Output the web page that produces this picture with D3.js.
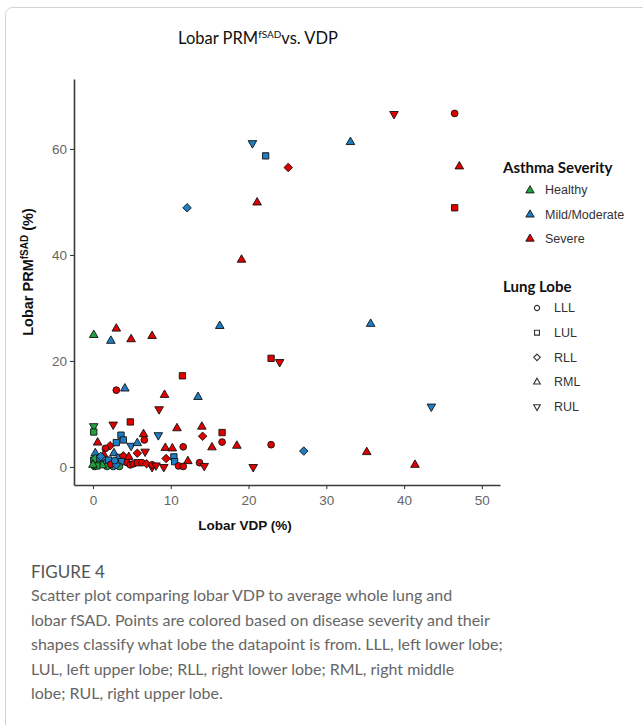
<!DOCTYPE html>
<html>
<head>
<meta charset="utf-8">
<script src="https://cdn.jsdelivr.net/npm/d3@7"></script>
<style>
  body { margin: 0; background: #fff; }
  svg { display: block; }
</style>
</head>
<body>
<div id="chart"></div>
<script>
// categories
const severityLevels = ["Healthy", "Mild/Moderate", "Severe"];
const severityColors = ["#1fa33f", "#1f7ec2", "#e00000"];
const lobeTypes = ["LLL", "LUL", "RLL", "RML", "RUL"];

const xTicks = [0, 10, 20, 30, 40, 50];
const yTicks = [0, 20, 40, 60];

// points (VDP %, PRM fSAD %, severity, lobe)
const pointVdp = [20.5, 22.2, 12.1, 21.1, 25.1, 33.1, 38.7, 46.5, 47.1, 46.5,
  19.1, 35.7, 22.9, 24.0, 43.5, 22.9, 27.1, 35.2, 41.4, 16.3,
  0.1, 2.3, 3.0, 4.9, 7.6, 11.5, 3.0, 4.1, 9.2, 13.5,
  8.5, 2.6, 4.8, 0.1, 0.1, 10.8, 14.0, 14.1, 16.6, 16.6,
  18.5, 15.3, 11.6, 9.3, 10.2, 9.4, 10.4, 10.5, 12.2, 11.0,
  11.6, 13.7, 14.3, 20.6, 9.1, 7.6, 8.4, 0.6, 2.2, 1.6,
  3.0, 3.6, 3.9, 4.9, 5.7, 6.5, 6.6, 6.7, 2.7, 0.3,
  0.1, 0.9, 0.2, 0.3, 0.7, 1.4, 1.6, 2.0, 1.8, 2.6,
  3.4, 3.9, 3.7, 3.4, 4.4, 4.8, 5.2, 5.7, 6.3, 6.9,
  7.6, 8.1, 4.6, 5.7, 0.3, 0.9, 1.2, 2.3, 3.0, 0.5,
  1.0, 2.8, 0.0];
const pointPrm = [61.1, 58.7, 48.9, 49.9, 56.5, 61.3, 66.6, 66.7, 56.7, 48.9,
  39.1, 27.0, 20.5, 19.8, 11.4, 4.2, 3.0, 2.8, 0.4, 26.6,
  24.9, 23.8, 26.1, 24.1, 24.7, 17.2, 14.5, 14.8, 13.6, 13.2,
  10.9, 8.0, 8.5, 7.7, 6.6, 7.3, 7.6, 5.8, 6.5, 4.7,
  4.0, 3.7, 3.8, 3.6, 3.5, 1.6, 1.9, 1.0, 1.1, 0.2,
  0.1, 0.8, 0.2, 0.0, 0.0, 0.0, 6.0, 4.6, 4.0, 3.5,
  4.6, 6.0, 5.1, 4.0, 4.5, 6.2, 5.1, 2.9, 2.6, 2.6,
  1.3, 1.0, 0.1, 0.7, 0.6, 2.3, 0.8, 1.3, 0.1, 0.1,
  1.8, 2.1, 1.0, 0.1, 0.8, 0.4, 0.6, 0.8, 0.8, 0.6,
  0.4, 0.3, 1.9, 2.6, 1.6, 1.7, 0.3, 0.5, 0.4, 0.2,
  2.0, 1.2, 0.4];
const pointSeverity = ["M", "M", "M", "S", "S", "M", "S", "S", "S", "S",
  "S", "M", "S", "S", "M", "S", "M", "S", "S", "M",
  "H", "M", "S", "S", "S", "S", "S", "M", "S", "M",
  "S", "S", "S", "H", "H", "S", "S", "S", "S", "S",
  "S", "S", "S", "S", "S", "S", "M", "M", "S", "S",
  "S", "S", "S", "S", "S", "S", "M", "S", "S", "S",
  "M", "M", "M", "M", "M", "S", "S", "S", "M", "M",
  "M", "M", "H", "H", "H", "S", "M", "M", "H", "M",
  "M", "S", "M", "H", "S", "S", "S", "S", "S", "S",
  "S", "S", "S", "S", "H", "M", "H", "S", "M", "H",
  "M", "M", "H"];
const pointLobe = ["RUL", "LUL", "RLL", "RML", "RLL", "RML", "RUL", "LLL", "RML", "LUL",
  "RML", "RML", "LUL", "RUL", "RUL", "LLL", "RLL", "RML", "RML", "RML",
  "RML", "RML", "RML", "RML", "RML", "LUL", "LLL", "RML", "RML", "RML",
  "RUL", "RUL", "LUL", "RUL", "LUL", "RML", "RML", "RLL", "LUL", "LLL",
  "RML", "RML", "LLL", "RML", "RML", "RLL", "LUL", "LUL", "RML", "LLL",
  "LLL", "LLL", "RUL", "RUL", "RUL", "RUL", "RUL", "RML", "RLL", "LLL",
  "LUL", "LUL", "LUL", "RUL", "RML", "RML", "LLL", "RUL", "RML", "RML",
  "LUL", "RLL", "LLL", "LUL", "RLL", "RML", "RML", "LUL", "LLL", "LLL",
  "LUL", "RLL", "LUL", "LLL", "LLL", "LLL", "LLL", "LUL", "LLL", "RLL",
  "LLL", "RUL", "RML", "RLL", "RLL", "LUL", "RML", "LLL", "RLL", "LUL",
  "RLL", "LLL", "RML"];

const captionLines = [
  "Scatter plot comparing lobar VDP to average whole lung and",
  "lobar fSAD. Points are colored based on disease severity and their",
  "shapes classify what lobe the datapoint is from. LLL, left lower lobe;",
  "LUL, left upper lobe; RLL, right lower lobe; RML, right middle",
  "lobe; RUL, right upper lobe."
];

const W = 643, H = 725;
const svg = d3.select("#chart").append("svg").attr("width", W).attr("height", H);
svg.append("rect").attr("width", W).attr("height", H).attr("fill", "#fff");

// card border
svg.append("rect")
  .attr("x", 5.5).attr("y", 7.5).attr("width", 700).attr("height", 800)
  .attr("rx", 7).attr("fill", "none").attr("stroke", "#d4d4d4").attr("stroke-width", 1);

const x = d3.scaleLinear().domain([-2.44, 52.33]).range([74, 500]);
const y = d3.scaleLinear().domain([-3.4, 73.2]).range([485, 79]);
const color = d3.scaleOrdinal().domain(["H", "M", "S"]).range(severityColors);

// ggplot style diamond (square turned 45 deg)
const symbolDiamondSq = {
  draw(ctx, size) {
    const r = Math.sqrt(size / 2);
    ctx.moveTo(0, -r); ctx.lineTo(r, 0); ctx.lineTo(0, r); ctx.lineTo(-r, 0); ctx.closePath();
  }
};
const shapeOf = {
  LLL: [d3.symbolCircle, 36, 0],
  LUL: [d3.symbolSquare, 40, 0],
  RLL: [symbolDiamondSq, 36, 0],
  RML: [d3.symbolTriangle, 32, 0],
  RUL: [d3.symbolTriangle, 32, 180]
};

// axes
const xAxis = svg.append("g")
  .attr("transform", `translate(0,${y(-3.4)})`)
  .call(d3.axisBottom(x).tickValues(xTicks).tickSize(4).tickSizeOuter(0));
const yAxis = svg.append("g")
  .attr("transform", `translate(${x(-2.44)},0)`)
  .call(d3.axisLeft(y).tickValues(yTicks).tickSize(4).tickSizeOuter(0));

[xAxis, yAxis].forEach(g => {
  g.select(".domain").attr("stroke", "#3a3a3a").attr("stroke-width", 1.6);
  g.selectAll(".tick line").attr("stroke", "#3a3a3a").attr("stroke-width", 1.1);
  g.selectAll(".tick text")
    .attr("fill", "#666")
    .style("font-family", "'Liberation Sans', Arial, sans-serif")
    .style("font-size", "13.5px");
});
xAxis.selectAll(".tick text").attr("dy", "0.95em");
yAxis.selectAll(".tick text").attr("x", -7);

// points
const idx = d3.range(pointVdp.length);
svg.append("g")
  .selectAll("path")
  .data(idx)
  .join("path")
  .attr("d", i => d3.symbol().type(shapeOf[pointLobe[i]][0]).size(shapeOf[pointLobe[i]][1])())
  .attr("transform", i => `translate(${x(pointVdp[i])},${y(pointPrm[i])}) rotate(${shapeOf[pointLobe[i]][2]})`)
  .attr("fill", i => color(pointSeverity[i]))
  .attr("stroke", "#111")
  .attr("stroke-width", 0.9);

// title
const title = svg.append("text")
  .attr("x", 258).attr("y", 43.5)
  .attr("text-anchor", "middle")
  .style("font-family", "Lato, 'Open Sans', sans-serif")
  .style("font-size", "16.5px")
  .attr("fill", "#111");
title.append("tspan").text("Lobar PRM");
title.append("tspan").attr("dy", -6).style("font-size", "10px").text("fSAD");
title.append("tspan").attr("dy", 6).text("vs. VDP");

// axis titles
svg.append("text")
  .attr("x", 245).attr("y", 530)
  .attr("text-anchor", "middle")
  .style("font-family", "'Liberation Sans', Arial, sans-serif")
  .style("font-size", "13.5px").style("font-weight", "bold")
  .attr("fill", "#111")
  .text("Lobar VDP (%)");

const yTitle = svg.append("text")
  .attr("transform", "translate(33,272) rotate(-90)")
  .attr("text-anchor", "middle")
  .style("font-family", "'Liberation Sans', Arial, sans-serif")
  .style("font-size", "14.5px").style("font-weight", "bold")
  .attr("fill", "#111");
yTitle.append("tspan").text("Lobar PRM");
yTitle.append("tspan").attr("dy", -5).style("font-size", "10px").text("fSAD");
yTitle.append("tspan").attr("dy", 5).text(" (%)");

// legend: severity
const legend = svg.append("g");
legend.append("text")
  .attr("x", 503).attr("y", 173)
  .style("font-family", "Lato, sans-serif").style("font-size", "15px").style("font-weight", "bold")
  .attr("fill", "#111").text("Asthma Severity");
const sevY = d3.scalePoint().domain(severityLevels).range([190, 238.3]);
severityLevels.forEach((s, k) => {
  legend.append("path")
    .attr("d", d3.symbol().type(d3.symbolTriangle).size(30)())
    .attr("transform", `translate(530,${sevY(s) + 0.5})`)
    .attr("fill", severityColors[k]).attr("stroke", "#111").attr("stroke-width", 0.9);
  legend.append("text")
    .attr("x", 545).attr("y", sevY(s)).attr("dy", "0.35em")
    .style("font-family", "'Liberation Sans', Arial, sans-serif").style("font-size", "12.5px")
    .attr("fill", "#333").text(s);
});

// legend: lobe
legend.append("text")
  .attr("x", 503).attr("y", 292)
  .style("font-family", "Lato, sans-serif").style("font-size", "15px").style("font-weight", "bold")
  .attr("fill", "#111").text("Lung Lobe");
const lobeY = d3.scalePoint().domain(lobeTypes).range([308, 406.7]);
lobeTypes.forEach(l => {
  const s = shapeOf[l];
  legend.append("path")
    .attr("d", d3.symbol().type(s[0]).size(s[1] * 0.6)())
    .attr("transform", `translate(537,${lobeY(l)}) rotate(${s[2]})`)
    .attr("fill", "none").attr("stroke", "#333").attr("stroke-width", 1.1);
  legend.append("text")
    .attr("x", 554).attr("y", lobeY(l)).attr("dy", "0.35em")
    .style("font-family", "'Liberation Sans', Arial, sans-serif").style("font-size", "12.5px")
    .attr("fill", "#333").text(l);
});

// caption
svg.append("text")
  .attr("x", 31).attr("y", 578)
  .style("font-family", "Lato, sans-serif").style("font-size", "17px")
  .attr("fill", "#555").text("FIGURE 4");
svg.append("g")
  .selectAll("text")
  .data(captionLines)
  .join("text")
  .attr("x", 31)
  .attr("y", (d, i) => 601 + i * 24.5)
  .style("font-family", "Lato, sans-serif").style("font-size", "16px")
  .attr("fill", "#666")
  .text(d => d);
</script>
</body>
</html>
